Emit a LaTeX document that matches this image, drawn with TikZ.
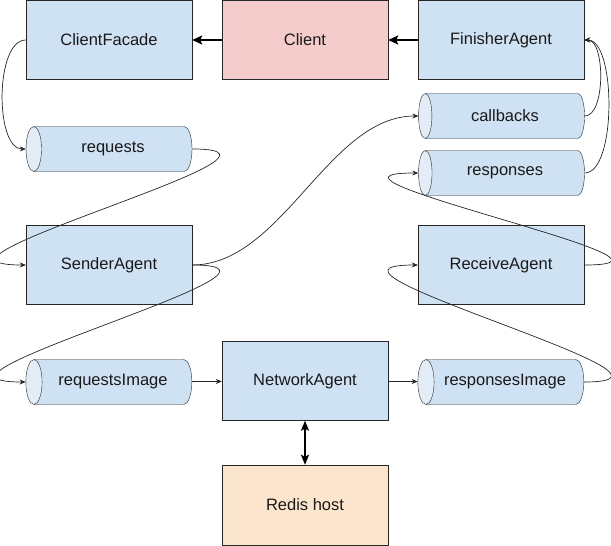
\documentclass[tikz,border=0pt]{standalone}
\usepackage{fontspec}
\setmainfont{Liberation Sans}
\usetikzlibrary{arrows.meta,shapes.geometric}
\definecolor{cbox}{HTML}{CFE2F3}
\definecolor{cend}{HTML}{E2EDF8}
\definecolor{cclient}{HTML}{F4CCCC}
\definecolor{credis}{HTML}{FCE5CD}
\tikzset{
    agent/.style={draw=black!85,fill=cbox,minimum width=166pt,minimum height=79pt,inner sep=0pt,font=\fontsize{16.5}{20}\selectfont,text=black!90},
    queue/.style={cylinder,shape border rotate=180,aspect=1.1,draw=black!85,cylinder uses custom fill,cylinder body fill=cbox,cylinder end fill=cend,minimum height=166pt,minimum width=45pt,inner sep=0pt,font=\fontsize{16.5}{20}\selectfont,text=black!90},
    flow/.style={-{Stealth[length=6pt,width=5pt]},line width=0.7pt,black!85},
    push/.style={-{Stealth[length=10pt,width=9pt,inset=2pt]},line width=1.8pt},
    pushboth/.style={{Stealth[length=10pt,width=8pt,inset=2pt]}-{Stealth[length=10pt,width=8pt,inset=2pt]},line width=1.8pt}
}
\begin{document}
\begin{tikzpicture}[x=1pt,y=-1pt]
    \useasboundingbox (0,0) rectangle (611,546);
    \foreach \nm/\x/\y in {ClientFacade/109/40,FinisherAgent/501/40,SenderAgent/109/265,ReceiveAgent/501/265,NetworkAgent/305/381}
        \node[agent] (\nm) at (\x,\y) {\nm};
    \node[agent,fill=cclient] (Client) at (305,40) {Client};
    \node[agent,fill=credis,minimum height=80pt] (Redis) at (305,505) {Redis host};
    \foreach \nm/\x/\y in {requests/113/149,callbacks/505/116,responses/505/173,requestsImage/113/382,responsesImage/505/382}
        \node[queue] (\nm) at (\x,\y) {\nm};
    \draw[push] (Client) -- (ClientFacade);
    \draw[push] (FinisherAgent) -- (Client);
    \draw[pushboth] (NetworkAgent) -- (Redis);
    \draw[flow] (ClientFacade.west) .. controls +(-31,0) and +(-31,0) .. (requests.west);
    \draw[flow] (requests.east) .. controls +(140,0) and +(-140,0) .. (SenderAgent.west);
    \draw[flow] (SenderAgent.east) .. controls +(90,0) and +(-90,0) .. (callbacks.west);
    \draw[flow] (SenderAgent.east) .. controls +(140,0) and +(-140,0) .. (requestsImage.west);
    \draw[flow] (requestsImage) -- (NetworkAgent);
    \draw[flow] (NetworkAgent) -- (responsesImage);
    \draw[flow] (responsesImage.east) .. controls +(140,0) and +(-140,0) .. (ReceiveAgent.west);
    \draw[flow] (ReceiveAgent.east) .. controls +(140,0) and +(-140,0) .. (responses.west);
    \draw[flow] (callbacks.east) .. controls +(21,0) and +(21,0) .. (FinisherAgent.east);
    \draw[flow] (responses.east) .. controls +(32,0) and +(32,0) .. (FinisherAgent.east);
\end{tikzpicture}
\end{document}
